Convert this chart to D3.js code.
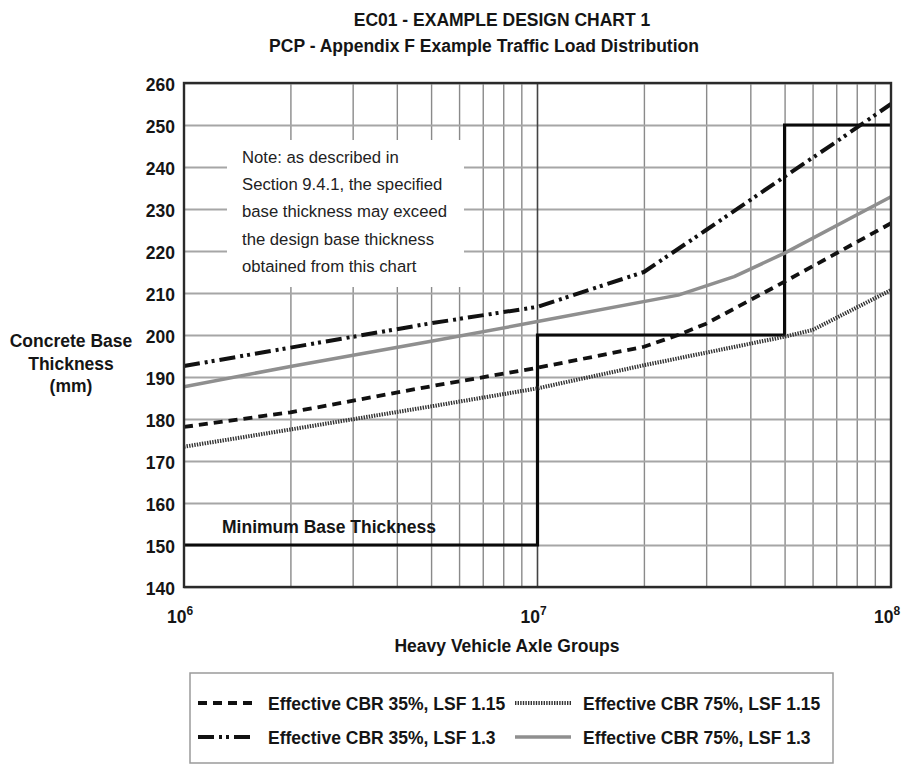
<!DOCTYPE html>
<html>
<head>
<meta charset="utf-8">
<script src="https://cdn.jsdelivr.net/npm/d3@7"></script>
<style>
  body { margin:0; background:#fff; }
  svg { display:block; font-family:"Liberation Sans", Arial, sans-serif; }
  .bold-font { font-weight:bold; font-size:17.5px; fill:#151515; }
  .note-font { font-size:16.7px; fill:#222; }
</style>
</head>
<body>
<svg id="viz-svg" width="905" height="765"></svg>
<script>
// values (axle groups, base thickness mm)
var cbr35lsf115 = [[1e6,178.1],[2e6,181.6],[5e6,187.8],[1e7,192.2],[2e7,197.2],[2.5e7,200],[3e7,202.7],[5e7,212.7],[1e8,226.6]]
  , cbr75lsf115 = [[1e6,173.4],[2e6,177.5],[5e6,183],[1e7,187.3],[2e7,192.8],[3e7,195.8],[5e7,199.6],[6e7,201.2],[1e8,210.7]]
  , cbr35lsf13 = [[1e6,192.6],[2e6,197],[5e6,202.8],[1e7,206.7],[2e7,215],[3e7,225],[5e7,237.7],[7e7,246],[1e8,255]]
  , cbr75lsf13 = [[1e6,187.7],[2e6,192.5],[5e6,198.5],[1e7,203.2],[2.5e7,209.5],[3.6e7,213.9],[5e7,219.5],[1e8,232.9]]
  , minBase = [[1e6,150],[1e7,200],[5e7,250],[1e8,250]]
  , yTicks = d3.range(140, 261, 10)
  , xDecades = [1e6, 1e7, 1e8]
  , xMinor = [2e6,3e6,4e6,5e6,6e6,7e6,8e6,9e6,2e7,3e7,4e7,5e7,6e7,7e7,8e7,9e7]
  , noteLines = ["Note: as described in", "Section 9.4.1, the specified", "base thickness may exceed", "the design base thickness", "obtained from this chart"]
  , seriesNames = ["Effective CBR 35%, LSF 1.15", "Effective CBR 75%, LSF 1.15", "Effective CBR 35%, LSF 1.3", "Effective CBR 75%, LSF 1.3"]

var svg = d3.select("#viz-svg")
  , pLeft = 184, pRight = 891, pTop = 83, pBottom = 587
  , x = d3.scaleLog().domain([1e6, 1e8]).range([pLeft, pRight])
  , y = d3.scaleLinear().domain([140, 260]).range([pBottom, pTop])
  , line = d3.line().x(function(d){ return x(d[0]) }).y(function(d){ return y(d[1]) })
  , styles = [
      {stroke:"#111", width:3.8, dash:"9,6"}
    , {stroke:"#333", width:4, dash:"1.4,1.2"}
    , {stroke:"#111", width:4, dash:"16,5,3,4,3,5"}
    , {stroke:"#8f8f8f", width:3.5, dash:null}
  ]
  , series = [cbr35lsf115, cbr75lsf115, cbr35lsf13, cbr75lsf13]

// titles
svg.append("text").attr("class","bold-font").attr("x",502).attr("y",26)
  .style("text-anchor","middle").text("EC01 - EXAMPLE DESIGN CHART 1")
svg.append("text").attr("class","bold-font").attr("x",484).attr("y",52)
  .style("text-anchor","middle").text("PCP - Appendix F Example Traffic Load Distribution")

// grid
var grid = svg.append("g").attr("id","grid")
grid.append("g")
  .attr("transform","translate(0,"+pBottom+")")
  .call(d3.axisBottom(x).tickValues(xMinor).tickSize(-(pBottom-pTop)).tickFormat(""))
  .call(function(g){
    g.select(".domain").remove()
    g.selectAll("line").attr("stroke","#8a8a8a").attr("stroke-width",1.4)
  })
grid.append("g")
  .attr("transform","translate("+pLeft+",0)")
  .call(d3.axisLeft(y).tickValues(yTicks).tickSize(-(pRight-pLeft)).tickFormat(""))
  .call(function(g){
    g.select(".domain").remove()
    g.selectAll("line").attr("stroke","#a6a6a6").attr("stroke-width",1.8)
  })
grid.append("line")
  .attr("x1",x(1e7)).attr("x2",x(1e7)).attr("y1",pTop).attr("y2",pBottom)
  .attr("stroke","#444").attr("stroke-width",1.6)

// note box
svg.append("rect").attr("x",227).attr("y",140).attr("width",237).attr("height",147).attr("fill","#fff")
svg.append("text").attr("class","note-font")
  .selectAll("tspan").data(noteLines)
  .enter().append("tspan")
    .attr("x",242)
    .attr("y",function(d,i){ return 163 + i*27.2 })
    .text(function(d){ return d })

// minimum base step
svg.append("path").datum(minBase)
  .attr("d", d3.line().x(function(d){ return x(d[0]) }).y(function(d){ return y(d[1]) }).curve(d3.curveStepAfter))
  .attr("fill","none").attr("stroke","#0a0a0a").attr("stroke-width",3.2)
svg.append("text").attr("class","bold-font").attr("x",222).attr("y",533).text("Minimum Base Thickness")

// curves
svg.append("g").attr("id","curves")
  .selectAll("path").data(series)
  .enter().append("path")
    .attr("d", line)
    .attr("fill","none")
    .attr("stroke-linejoin","round")
    .attr("stroke",function(d,i){ return styles[i].stroke })
    .attr("stroke-width",function(d,i){ return styles[i].width })
    .attr("stroke-dasharray",function(d,i){ return styles[i].dash })

// plot border
svg.append("rect").attr("x",pLeft).attr("y",pTop).attr("width",pRight-pLeft).attr("height",pBottom-pTop)
  .attr("fill","none").attr("stroke","#2a2a2a").attr("stroke-width",2.4)

// y axis labels
svg.append("g")
  .attr("transform","translate("+pLeft+",0)")
  .call(d3.axisLeft(y).tickValues(yTicks).tickSize(0).tickPadding(9))
  .call(function(g){
    g.select(".domain").remove()
    g.selectAll("text").attr("class","bold-font").attr("dy","0.4em")
  })
  .attr("font-size",null).attr("font-family",null)

// x axis labels 10^n
var xl = svg.append("g").selectAll("text").data(xDecades)
  .enter().append("text")
    .attr("class","bold-font")
    .attr("x",function(d){ return x(d) - 4 })
    .attr("y",623)
    .style("text-anchor","middle")
xl.append("tspan").text("10")
xl.append("tspan").attr("dy",-8).style("font-size","12px")
  .text(function(d){ return Math.round(Math.log10(d)) })

svg.append("text").attr("class","bold-font").attr("x",507).attr("y",652)
  .style("text-anchor","middle").text("Heavy Vehicle Axle Groups")

svg.append("text").attr("class","bold-font").style("text-anchor","middle")
  .selectAll("tspan").data(["Concrete Base","Thickness","(mm)"])
  .enter().append("tspan")
    .attr("x",71)
    .attr("y",function(d,i){ return 347 + i*22.5 })
    .text(function(d){ return d })

// legend
var legend = svg.append("g").attr("id","legend")
legend.append("rect").attr("x",190).attr("y",673).attr("width",643).attr("height",90)
  .attr("fill","#fff").attr("stroke","#9a9a9a").attr("stroke-width",1.5)
var items = legend.selectAll(".item").data(seriesNames)
  .enter().append("g")
    .attr("class","item")
    .attr("transform",function(d,i){ return "translate("+(i%2 ? 515 : 198)+","+(i<2 ? 703 : 737)+")" })
items.append("line")
  .attr("x1",0).attr("x2",56).attr("y1",0).attr("y2",0)
  .attr("stroke",function(d,i){ return styles[i].stroke })
  .attr("stroke-width",function(d,i){ return styles[i].width })
  .attr("stroke-dasharray",function(d,i){ return styles[i].dash })
items.append("text").attr("class","bold-font")
  .attr("x",function(d,i){ return i%2 ? 68 : 70 })
  .attr("y",6.5)
  .text(function(d){ return d })
</script>
</body>
</html>
